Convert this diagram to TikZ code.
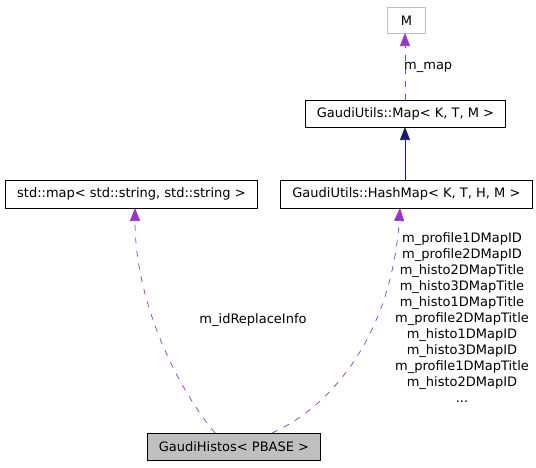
\documentclass[tikz,border=0pt]{standalone}
\usepackage{fontspec}
\setmainfont{DejaVu Sans}
\usetikzlibrary{arrows.meta}
\definecolor{purp}{HTML}{9A32CD}
\definecolor{navy}{HTML}{191970}
\definecolor{grayfill}{HTML}{BFBFBF}
\definecolor{grayline}{HTML}{BFBFBF}
\begin{document}
\begin{tikzpicture}[x=1pt,y=-1pt,
  font=\fontsize{13}{16}\selectfont,
  cls/.style={draw=black,line width=0.8pt,inner sep=0pt,anchor=north west},
  usage/.style={draw=purp,dash pattern=on 6pt off 7pt,line width=0.7pt,-{Triangle[length=13pt,width=10pt,fill=purp]}},
  inherit/.style={draw=navy,line width=0.7pt,-{Triangle[length=13pt,width=10pt,fill=navy]}},
  lbl/.style={inner sep=0pt,align=center}]
\useasboundingbox (0,0) rectangle (536,467);
\node[cls,draw=grayline,minimum width=38pt,minimum height=26pt] (M) at (387,7) {M};
\node[cls,minimum width=200pt,minimum height=27pt] (Map) at (305,100) {GaudiUtils::Map< K, T, M >};
\node[cls,minimum width=252pt,minimum height=28pt] (Std) at (5,180) {std::map< std::string, std::string >};
\node[cls,minimum width=252pt,minimum height=28pt] (Hash) at (280,180) {GaudiUtils::HashMap< K, T, H, M >};
\node[cls,fill=grayfill,minimum width=173pt,minimum height=27pt] (GH) at (147,433) {GaudiHistos< PBASE >};
\coordinate (Mb) at (405,33);
\coordinate (Mapt) at (405,100);
\coordinate (Mapb) at (405,127);
\coordinate (Hasht) at (405,180);
\coordinate (Stdb) at (135,208);
\coordinate (Hashb) at (400,208);
\coordinate (GHl) at (215,433);
\coordinate (GHr) at (272,433);
\draw[usage] (Mapt) -- (Mb);
\node[lbl,anchor=west] (lmap) at (404,67) {m\_map};
\draw[inherit] (Hasht) -- (Mapb);
\draw[usage] (GHl) .. controls (175,385) and (135,300) .. (Stdb);
\node[lbl] (lid) at (253,320) {m\_idReplaceInfo};
\draw[usage] (GHr) .. controls (335,405) and (392,330) .. (Hashb);
\node[lbl,anchor=north] (lh) at (462,232) {m\_profile1DMapID\\m\_profile2DMapID\\m\_histo2DMapTitle\\m\_histo3DMapTitle\\m\_histo1DMapTitle\\m\_profile2DMapTitle\\m\_histo1DMapID\\m\_histo3DMapID\\m\_profile1DMapTitle\\m\_histo2DMapID\\...};
\end{tikzpicture}
\end{document}
